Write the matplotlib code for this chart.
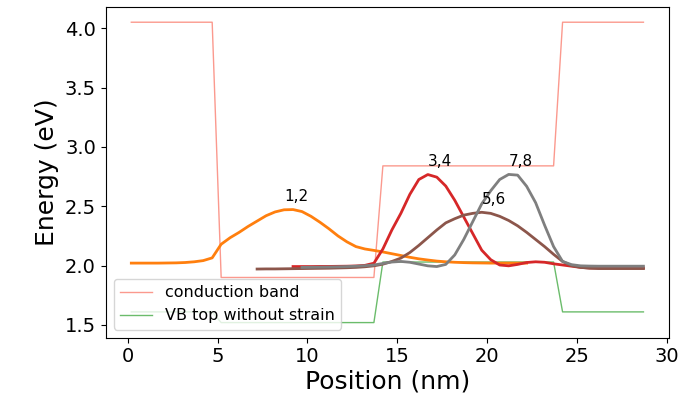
import matplotlib
matplotlib.use("Agg")
import matplotlib.pyplot as plt

# band edges (step profile)
band_x = [0.2, 4.7, 5.2, 13.7, 14.2, 23.7, 24.2, 28.7]
cb_energy = [4.05, 4.05, 1.90, 1.90, 2.84, 2.84, 4.05, 4.05]
vb_energy = [1.61, 1.61, 1.52, 1.52, 2.03, 2.03, 1.61, 1.61]

# wavefunctions shifted to their energy levels
wf12_x = [0.2, 0.7, 1.2, 1.7, 2.2, 2.7, 3.2, 3.7, 4.2, 4.7, 5.2, 5.7, 6.2, 6.7,
          7.2, 7.7, 8.2, 8.7, 9.2, 9.7, 10.2, 10.7, 11.2, 11.7, 12.2, 12.7,
          13.2, 13.7, 14.2, 14.7, 15.2, 15.7, 16.2, 16.7, 17.2, 17.7, 18.2,
          18.7, 19.2, 19.7, 20.2, 20.7, 21.2, 21.7, 22.2]
wf12_y = [2.021, 2.021, 2.021, 2.021, 2.022, 2.023, 2.026, 2.032, 2.042, 2.065,
          2.180, 2.235, 2.280, 2.330, 2.375, 2.420, 2.452, 2.470, 2.472, 2.455,
          2.415, 2.365, 2.310, 2.250, 2.200, 2.160, 2.140, 2.128, 2.115, 2.100,
          2.085, 2.070, 2.057, 2.047, 2.038, 2.032, 2.028, 2.025, 2.023, 2.022,
          2.021, 2.021, 2.021, 2.021, 2.021]

wf34_x = [9.2, 9.7, 10.2, 10.7, 11.2, 11.7, 12.2, 12.7, 13.2, 13.7, 14.2, 14.7,
          15.2, 15.7, 16.2, 16.7, 17.2, 17.7, 18.2, 18.7, 19.2, 19.7, 20.2,
          20.7, 21.2, 21.7, 22.2, 22.7, 23.2, 23.7, 24.2, 24.7, 25.2, 25.7,
          26.2, 26.7, 27.2, 27.7, 28.2, 28.7]
wf34_y = [1.992, 1.992, 1.992, 1.993, 1.993, 1.994, 1.995, 1.997, 2.002, 2.020,
          2.140, 2.300, 2.440, 2.600, 2.725, 2.767, 2.745, 2.670, 2.550, 2.410,
          2.270, 2.130, 2.050, 2.005, 1.998, 2.010, 2.026, 2.032, 2.028, 2.015,
          2.005, 1.995, 1.985, 1.980, 1.980, 1.980, 1.980, 1.980, 1.980, 1.980]

wf56_x = [7.2, 7.7, 8.2, 8.7, 9.2, 9.7, 10.2, 10.7, 11.2, 11.7, 12.2, 12.7,
          13.2, 13.7, 14.2, 14.7, 15.2, 15.7, 16.2, 16.7, 17.2, 17.7, 18.2,
          18.7, 19.2, 19.7, 20.2, 20.7, 21.2, 21.7, 22.2, 22.7, 23.2, 23.7,
          24.2, 24.7, 25.2, 25.7, 26.2, 26.7, 27.2, 27.7, 28.2, 28.7]
wf56_y = [1.971, 1.972, 1.972, 1.973, 1.974, 1.975, 1.976, 1.977, 1.978, 1.980,
          1.982, 1.985, 1.990, 1.998, 2.012, 2.035, 2.063, 2.110, 2.170, 2.235,
          2.300, 2.360, 2.395, 2.425, 2.440, 2.449, 2.440, 2.415, 2.380, 2.335,
          2.280, 2.220, 2.160, 2.095, 2.035, 2.000, 1.985, 1.978, 1.975, 1.975,
          1.975, 1.975, 1.975, 1.975]

wf78_x = [9.7, 10.2, 10.7, 11.2, 11.7, 12.2, 12.7, 13.2, 13.7, 14.2, 14.7,
          15.2, 15.7, 16.2, 16.7, 17.2, 17.7, 18.2, 18.7, 19.2, 19.7, 20.2,
          20.7, 21.2, 21.7, 22.2, 22.7, 23.2, 23.7, 24.2, 24.7, 25.2, 25.7,
          26.2, 26.7, 27.2, 27.7, 28.2, 28.7]
wf78_y = [1.985, 1.986, 1.987, 1.988, 1.990, 1.992, 1.995, 1.999, 2.005, 2.018,
          2.030, 2.035, 2.028, 2.013, 1.998, 1.992, 2.010, 2.090, 2.220, 2.370,
          2.520, 2.630, 2.725, 2.768, 2.762, 2.668, 2.530, 2.340, 2.160, 2.035,
          2.008, 1.998, 1.996, 1.995, 1.995, 1.995, 1.995, 1.995, 1.995]

level_labels = ["1,2", "3,4", "5,6", "7,8"]
label_x = [9.4, 17.35, 20.4, 21.9]
label_y = [2.58, 2.875, 2.555, 2.875]

fig = plt.figure(figsize=(6.82, 4.0), dpi=100)
ax = fig.add_axes([0.155, 0.156, 0.826, 0.826])

ax.plot(band_x, cb_energy, color="salmon", lw=1.0, alpha=0.8, label="conduction band")
ax.plot(band_x, vb_energy, color="tab:green", lw=1.0, alpha=0.7,
        label="VB top without strain")

ax.plot(wf12_x, wf12_y, color="tab:orange", lw=2)
ax.plot(wf34_x, wf34_y, color="tab:red", lw=2)
ax.plot(wf56_x, wf56_y, color="tab:brown", lw=2)
ax.plot(wf78_x, wf78_y, color="tab:gray", lw=2)

for txt, tx, ty in zip(level_labels, label_x, label_y):
    ax.text(tx, ty, txt, ha="center", va="center", fontsize=11)

ax.set_xlabel("Position (nm)", fontsize=18, labelpad=2)
ax.set_ylabel("Energy (eV)", fontsize=18)
ax.set_xticks([0, 5, 10, 15, 20, 25, 30])
ax.set_yticks([1.5, 2.0, 2.5, 3.0, 3.5, 4.0])
ax.tick_params(labelsize=14)
ax.legend(loc="lower left", fontsize=11.5)

fig.savefig("out.png", dpi=100)
